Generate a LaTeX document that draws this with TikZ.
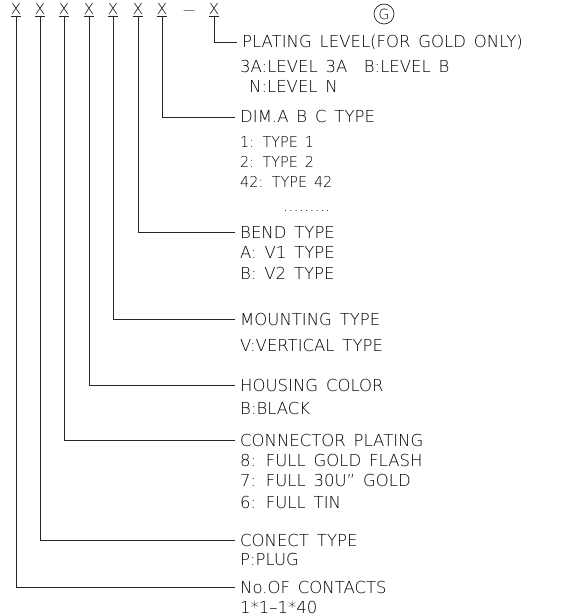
\documentclass[tikz,border=0pt]{standalone}
\usepackage{fontspec}
\setmainfont{DejaVu Sans ExtraLight}[WordSpace=1.5]
\newfontfamily\cadnarrow{DejaVu Sans ExtraLight}[WordSpace=1.5, FakeStretch=0.96]
\usetikzlibrary{positioning}
\tikzset{
  digit/.style={inner xsep=0pt, inner ysep=1.5bp, text depth=0pt, anchor=south,
                font=\fontsize{15bp}{15bp}\selectfont},
  head/.style={anchor=west, inner xsep=5bp, inner ysep=0pt, text height=12bp, text depth=0pt,
               font=\fontsize{16.5bp}{16.5bp}\selectfont},
  item/.style={head, inner xsep=0pt},
  small/.style={item, text height=10.9bp, font=\cadnarrow\fontsize{15bp}{15bp}\selectfont},
  lead/.style={draw=black!85, line width=0.7bp},
}
\begin{document}
\begin{tikzpicture}[x=1bp, y=-1bp]
  \useasboundingbox (0,0) rectangle (570,616);
  % part number code
  \foreach \i/\x in {1/16,2/40,3/64,4/89,5/113,6/138,7/162,8/214} {
    \node[digit] (x\i) at (\x,16) {X};
    \draw[lead] (x\i.south west) -- (x\i.south east);
  }
  \node[inner sep=0pt, anchor=base, font=\fontsize{12bp}{12bp}\selectfont] (dash) at (189,15) {—};
  \node[circle, draw=black!85, line width=0.7bp, minimum size=20bp, inner sep=0pt,
        font=\fontsize{14bp}{14bp}\selectfont] (gold) at (384,14) {G};

  % plating level
  \node[head] (pl) at (237,42) {PLATING LEVEL(FOR GOLD ONLY)};
  \node[item] (pl1) at (240,67) {3A:LEVEL 3A\quad{}B:LEVEL B};
  \node[item] (pl2) at (249,87) {N:LEVEL N};

  % dimension type
  \node[head] (dim) at (235,117) {DIM.A B C TYPE};
  \node[small] (dim1) at (240,142) {1: TYPE 1};
  \node[small] (dim2) at (240,162) {2: TYPE 2};
  \node[small] (dim3) at (240,182) {42: TYPE 42};
  \node[item] (dim4) at (283,205) {.........};

  % bend type
  \node[head] (bend) at (235,232) {BEND TYPE};
  \node[item] (bend1) at (240,252) {A: V1 TYPE};
  \node[item] (bend2) at (240,273) {B: V2 TYPE};

  % mounting type
  \node[head] (mnt) at (235,319) {MOUNTING TYPE};
  \node[item] (mnt1) at (240,345) {V:VERTICAL TYPE};

  % housing color
  \node[head] (hsg) at (235,385) {HOUSING COLOR};
  \node[item] (hsg1) at (240,408) {B:BLACK};

  % connector plating
  \node[head] (cpl) at (235,440) {CONNECTOR PLATING};
  \node[item] (cpl1) at (240,460) {8: FULL GOLD FLASH};
  \node[item] (cpl2) at (240,480) {7: FULL 30U” GOLD};
  \node[item] (cpl3) at (240,502) {6: FULL TIN};

  % connect type
  \node[head] (cnt) at (235,540) {CONECT TYPE};
  \node[item] (cnt1) at (240,559) {P:PLUG};

  % contacts
  \node[head] (pins) at (235,587) {No.OF CONTACTS};
  \node[item] (pins1) at (240,607) {1*1–1*40};

  \foreach \i/\t in {1/pins,2/cnt,3/cpl,4/hsg,5/mnt,6/bend,7/dim,8/pl}
    \draw[lead] (x\i.south) |- (\t.west);
\end{tikzpicture}
\end{document}
